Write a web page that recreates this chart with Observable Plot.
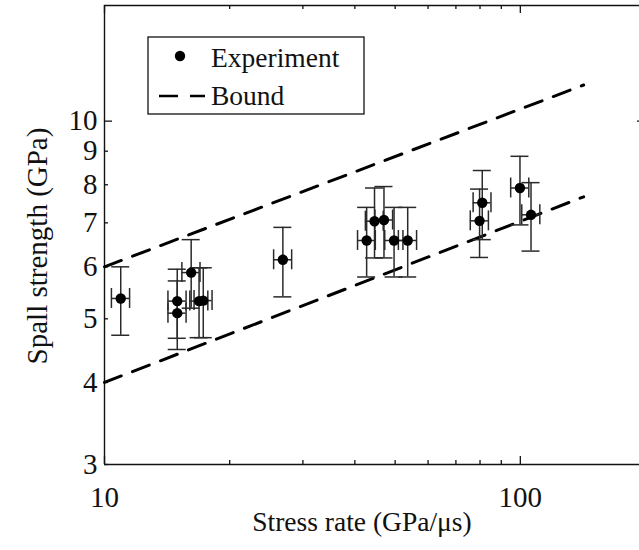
<!DOCTYPE html>
<html>
<head>
<meta charset="utf-8">
<script src="https://cdn.jsdelivr.net/npm/d3@7"></script>
<script src="https://cdn.jsdelivr.net/npm/@observablehq/plot@0.6"></script>
<style>
  html, body { margin: 0; padding: 0; background: #fff; overflow: hidden; }
  #chart svg { display: block; }
</style>
</head>
<body>
<div id="chart"></div>
<script>
// ---- data ----
const stressRate = [10.94, 14.96, 14.96, 16.16, 16.88, 17.28, 26.85, 42.7, 44.6, 47.0, 49.7, 53.6, 79.8, 81.0, 99.8, 106.1];
const spall      = [5.37, 5.32, 5.10, 5.88, 5.32, 5.33, 6.15, 6.58, 7.04, 7.07, 6.58, 6.58, 7.05, 7.51, 7.91, 7.20];
const spallLow   = [4.72, 4.67, 4.49, 5.19, 4.68, 4.68, 5.40, 5.79, 6.19, 6.19, 5.79, 5.79, 6.20, 6.60, 6.95, 6.34];
const spallHigh  = [6.00, 5.95, 5.71, 6.60, 5.98, 5.98, 6.89, 7.39, 7.91, 7.95, 7.39, 7.39, 7.88, 8.41, 8.84, 8.06];
const rateErr    = [0.55, 0.75, 0.75, 0.81, 0.84, 0.86, 1.34, 2.1, 2.2, 2.3, 2.5, 2.7, 4.0, 4.0, 5.0, 5.3];

const boundRate  = [10, 142];
const boundUpper = [6.0, 11.35];
const boundLower = [4.0, 7.67];

const xLabelTicks = [10, 100];
const xMinorTicks = [20, 30, 40, 50, 60, 70, 80, 90, 200];
const yLabelTicks = [3, 4, 5, 6, 7, 8, 9, 10];
const yMajorTicks = [10];
const yMinorTicks = [3, 4, 5, 6, 7, 8, 9];

const xTitle = "Stress rate (GPa/\u03bcs)";
const yTitle = "Spall strength (GPa)";
const legendLabels = ["Experiment", "Bound"];

// ---- tables ----
const pts = stressRate.map((x, i) => ({
  x, y: spall[i], lo: spallLow[i], hi: spallHigh[i],
  xlo: x - rateErr[i], xhi: x + rateErr[i]
}));
const bounds = [];
boundRate.forEach((x, i) => bounds.push({x, y: boundUpper[i], k: "upper"}));
boundRate.forEach((x, i) => bounds.push({x, y: boundLower[i], k: "lower"}));

const W = 639, H = 550;
const mL = 104, mT = 5, mB = 86, mR = 0;
const frameH = H - mT - mB;   // 459
const frameW = W - mL - mR;   // 535
const FONT = "'Liberation Serif', 'Times New Roman', serif";
const ink = "#111";
const barInk = "#2a2a2a";

const plot = Plot.plot({
  width: W, height: H,
  marginLeft: mL, marginRight: mR, marginTop: mT, marginBottom: mB,
  style: {fontFamily: FONT, fontSize: "29px", color: ink, background: "#fff"},
  x: {type: "log", domain: [10, 200], range: [mL, 645]},
  y: {type: "log", domain: [3, 15]},
  marks: [
    // frame (left, bottom, top)
    Plot.ruleX([10], {stroke: ink, strokeWidth: 1.4}),
    Plot.ruleY([3], {stroke: ink, strokeWidth: 1.4}),
    Plot.ruleY([15], {stroke: ink, strokeWidth: 1.4}),
    // inward ticks: bottom & top
    Plot.ruleX(xLabelTicks, {x: d => d, insetTop: frameH - 8, stroke: ink, strokeWidth: 1.3}),
    Plot.ruleX(xLabelTicks, {x: d => d, insetBottom: frameH - 8, stroke: ink, strokeWidth: 1.3}),
    Plot.ruleX(xMinorTicks, {x: d => d, insetTop: frameH - 4, stroke: ink, strokeWidth: 1.3}),
    Plot.ruleX(xMinorTicks, {x: d => d, insetBottom: frameH - 4, stroke: ink, strokeWidth: 1.3}),
    // inward ticks: left & right
    Plot.ruleY(yMajorTicks, {y: d => d, insetRight: frameW - 8, stroke: ink, strokeWidth: 1.3}),
    Plot.ruleY(yMinorTicks, {y: d => d, insetRight: frameW - 4, stroke: ink, strokeWidth: 1.3}),
    Plot.ruleY(yMajorTicks, {y: d => d, insetLeft: frameW - 2, stroke: ink, strokeWidth: 1.3}),
    // tick labels
    Plot.axisX(xLabelTicks, {tickSize: 0, tickPadding: 22, tickFormat: d => String(d), fontSize: 29, label: null, color: ink}),
    Plot.axisY(yLabelTicks, {tickSize: 0, tickPadding: 7, tickFormat: d => String(d), fontSize: 29, label: null, color: ink}),
    // bounds
    Plot.line(bounds, {x: "x", y: "y", z: "k", stroke: "#000", strokeWidth: 3, strokeDasharray: "18,12"}),
    // error bars (vertical)
    Plot.ruleX(pts, {x: "x", y1: "lo", y2: "hi", stroke: barInk, strokeWidth: 1.5}),
    Plot.ruleY(pts, {y: "hi", x1: "x", x2: "x", insetLeft: -9, insetRight: -9, stroke: barInk, strokeWidth: 1.5}),
    Plot.ruleY(pts, {y: "lo", x1: "x", x2: "x", insetLeft: -9, insetRight: -9, stroke: barInk, strokeWidth: 1.5}),
    // error bars (horizontal)
    Plot.ruleY(pts, {y: "y", x1: "xlo", x2: "xhi", stroke: barInk, strokeWidth: 1.5}),
    Plot.ruleX(pts, {x: "xlo", y1: "y", y2: "y", insetTop: -10, insetBottom: -10, stroke: barInk, strokeWidth: 1.5}),
    Plot.ruleX(pts, {x: "xhi", y1: "y", y2: "y", insetTop: -10, insetBottom: -10, stroke: barInk, strokeWidth: 1.5}),
    // points
    Plot.dot(pts, {x: "x", y: "y", r: 5.2, fill: "#000", stroke: "none"})
  ]
});

document.getElementById("chart").append(plot);

const svg = d3.select(plot);

// axis titles
svg.append("text").attr("x", 362).attr("y", 525)
  .attr("text-anchor", "middle").attr("dominant-baseline", "middle")
  .attr("font-family", FONT).attr("font-size", 27.5).attr("fill", ink)
  .text(xTitle);
svg.append("text").attr("transform", "translate(40,246) rotate(-90)")
  .attr("text-anchor", "middle").attr("dominant-baseline", "middle")
  .attr("font-family", FONT).attr("font-size", 29).attr("fill", ink)
  .text(yTitle);

// legend box inside the plot area
const lg = svg.append("g").attr("font-family", FONT).attr("font-size", 27.5)
  .attr("fill", ink).attr("text-anchor", "start");
lg.append("rect").attr("x", 148).attr("y", 37).attr("width", 216).attr("height", 77)
  .attr("fill", "#fff").attr("stroke", ink).attr("stroke-width", 1.3);
lg.append("circle").attr("cx", 180).attr("cy", 56).attr("r", 5.2).attr("fill", "#000");
lg.append("text").attr("x", 211).attr("y", 67).text(legendLabels[0]);
lg.append("line").attr("x1", 159).attr("x2", 205).attr("y1", 96).attr("y2", 96)
  .attr("stroke", "#000").attr("stroke-width", 2.6).attr("stroke-dasharray", "19,12");
lg.append("text").attr("x", 211).attr("y", 105).text(legendLabels[1]);
</script>
</body>
</html>
